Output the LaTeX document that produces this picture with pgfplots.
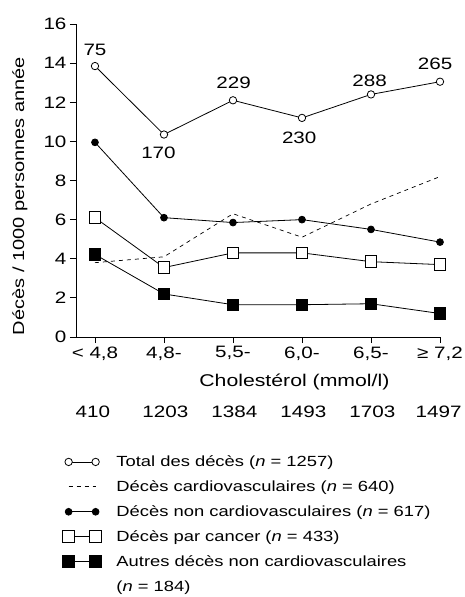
\documentclass[border=0pt]{standalone}
\usepackage{fontspec}
\setmainfont[FakeStretch=1.25]{Liberation Sans}
\usepackage{pgfplots}
\pgfplotsset{compat=1.18}

\pgfplotsset{
  every mark/.append style={xscale=1.3},
  legend image code/.code={\draw[#1] plot coordinates {(0pt,0pt) (27pt,0pt)};},
}

\begin{document}
\begin{tikzpicture}[x=1pt,y=1pt]
\useasboundingbox (0,0) rectangle (465,597);
\begin{axis}[
    at={(76pt,260pt)}, anchor=south west,
    scale only axis,
    width=364pt, height=313pt,
    xmin=-0.275, xmax=5,
    ymin=0, ymax=16,
    axis x line*=bottom, axis y line*=left,
    axis line style={-, line width=0.8pt},
    tick align=outside,
    major tick length=6pt,
    tick style={line width=0.8pt, black},
    xtick={0,1,2,3,4,5},
    xticklabels={{< 4,8},{4,8-},{5,5-},{6,0-},{6,5-},{≥ 7,2}},
    ytick={0,2,...,16},
    /pgf/number format/assume math mode=true,
    tick label style={font=\fontsize{16.5}{19}\selectfont},
    ylabel={Décès / 1000 personnes année},
    ylabel style={at={(axis description cs:-0.154,0.45)}, anchor=center, font=\fontsize{16}{19}\selectfont},
    legend style={at={(axis description cs:-0.045,-0.366)}, anchor=north west,
        draw=none, fill=none, font=\fontsize{14.7}{17}\selectfont, row sep=8.6pt,
        /tikz/every odd column/.append style={column sep=13pt}},
    legend cell align=left,
    clip=false,
]
% Total des deces
\addplot[black, line width=0.8pt, mark=*, mark options={fill=white, line width=0.8pt}, mark size=3.7pt]
  coordinates {(0,13.85) (1,10.35) (2,12.1) (3,11.2) (4,12.4) (5,13.05)};
\addlegendentry{Total des décès (\textit{n} = 1257)}
% Deces cardiovasculaires
\addplot[black, line width=0.7pt, dash pattern=on 4pt off 4pt]
  coordinates {(0,3.8) (1,4.1) (2,6.3) (3,5.1) (4,6.8) (5,8.2)};
\addlegendentry{Décès cardiovasculaires (\textit{n} = 640)}
% Deces non cardiovasculaires
\addplot[black, line width=0.8pt, mark=*, mark options={fill=black}, mark size=3.4pt]
  coordinates {(0,9.95) (1,6.1) (2,5.85) (3,6.0) (4,5.5) (5,4.85)};
\addlegendentry{Décès non cardiovasculaires (\textit{n} = 617)}
% Deces par cancer
\addplot[black, line width=0.8pt, mark=square*, mark options={fill=white, line width=0.8pt}, mark size=5.8pt]
  coordinates {(0,6.1) (1,3.55) (2,4.3) (3,4.3) (4,3.85) (5,3.7)};
\addlegendentry{Décès par cancer (\textit{n} = 433)}
% Autres deces non cardiovasculaires
\addplot[black, line width=0.8pt, mark=square*, mark options={fill=black}, mark size=5.8pt]
  coordinates {(0,4.22) (1,2.2) (2,1.65) (3,1.65) (4,1.7) (5,1.2)};
\addlegendentry{Autres décès non cardiovasculaires}
\addlegendimage{empty legend}
\addlegendentry{(\textit{n} = 184)}

\begin{scope}[every node/.style={font=\fontsize{16.5}{19}\selectfont}]
\node at (axis cs:0,14.67) {75};
\node at (axis cs:0.92,9.4) {170};
\node at (axis cs:2.01,13.0) {229};
\node at (axis cs:2.96,10.2) {230};
\node at (axis cs:3.98,13.1) {288};
\node at (axis cs:4.93,13.95) {265};
\node at (axis cs:2.89,0) [yshift=-45pt, font=\fontsize{17}{20}\selectfont] {Cholestérol (mmol/l)};
\node at (axis cs:-0.03,0) [yshift=-75pt] {410};
\node at (axis cs:1.02,0) [yshift=-75pt] {1203};
\node at (axis cs:2.02,0) [yshift=-75pt] {1384};
\node at (axis cs:3.02,0) [yshift=-75pt] {1493};
\node at (axis cs:4.02,0) [yshift=-75pt] {1703};
\node at (axis cs:4.98,0) [yshift=-75pt] {1497};
\end{scope}
\end{axis}
\end{tikzpicture}
\end{document}
